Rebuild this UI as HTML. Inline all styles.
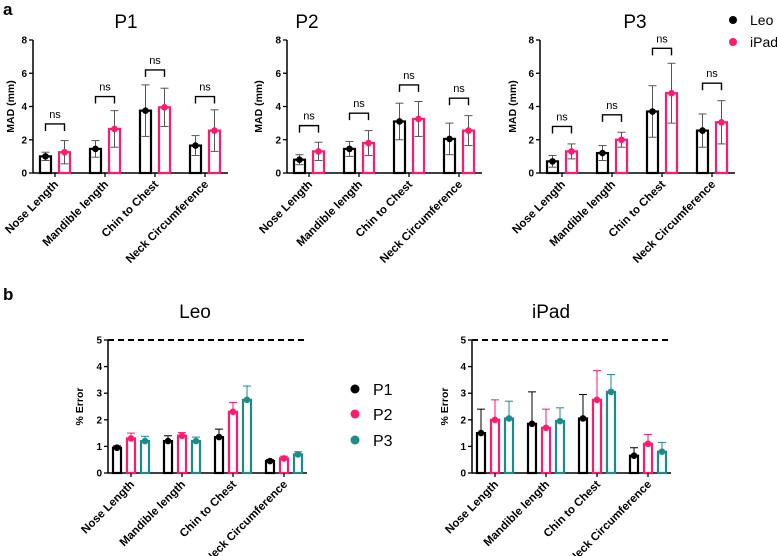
<!DOCTYPE html>
<html><head><meta charset="utf-8"><style>
body{margin:0;background:#fff;width:777px;height:556px;overflow:hidden}
svg{display:block;font-family:"Liberation Sans",Arial,sans-serif}
</style></head><body>
<svg id="c" width="777" height="556"></svg>
<script>
const categories=["Nose Length","Mandible length","Chin to Chest","Neck Circumference"];
const p1Leo=[1.0,1.45,3.75,1.65], p1LeoErr=[0.25,0.5,1.55,0.6];
const p1Ipad=[1.25,2.65,3.95,2.55], p1IpadErr=[0.7,1.1,1.15,1.25];
const p1Brk=[2.95,4.6,6.2,4.6];
const p2Leo=[0.8,1.45,3.1,2.05], p2LeoErr=[0.3,0.45,1.1,0.95];
const p2Ipad=[1.3,1.8,3.25,2.55], p2IpadErr=[0.55,0.75,1.05,0.9];
const p2Brk=[2.85,3.6,5.3,4.5];
const p3Leo=[0.7,1.2,3.7,2.55], p3LeoErr=[0.35,0.45,1.55,1.0];
const p3Ipad=[1.3,2.0,4.8,3.05], p3IpadErr=[0.45,0.45,1.8,1.3];
const p3Brk=[2.8,3.5,7.5,5.4];
const madTicks=[0,2,4,6,8];
const errTicks=[0,1,2,3,4,5];
const leoP1=[0.95,1.2,1.35,0.45], leoP1Err=[0.07,0.2,0.3,0.05];
const leoP2=[1.3,1.4,2.3,0.55], leoP2Err=[0.2,0.12,0.35,0.08];
const leoP3=[1.2,1.2,2.75,0.7], leoP3Err=[0.18,0.15,0.52,0.1];
const ipadP1=[1.5,1.85,2.05,0.65], ipadP1Err=[0.9,1.2,0.9,0.3];
const ipadP2=[2.0,1.7,2.75,1.1], ipadP2Err=[0.75,0.7,1.1,0.35];
const ipadP3=[2.05,1.95,3.05,0.8], ipadP3Err=[0.65,0.5,0.65,0.35];
const threshold=5;
const BLACK="#000", PINK="#ff1a6e", TEAL="#1a8c8c";
const svg=document.getElementById('c');
const NS="http://www.w3.org/2000/svg";
function el(tag,attrs,parent,txt){const e=document.createElementNS(NS,tag);for(const k in attrs)e.setAttribute(k,attrs[k]);if(txt!==undefined)e.textContent=txt;(parent||svg).appendChild(e);return e;}
function txt(x,y,s,size,opts,parent){const t=el('text',Object.assign({x:x,y:y,'font-size':size},opts||{}),parent,s);return t;}

let t=txt(3,15,"a",17,{'font-weight':'bold'});


t=txt(3,300,"b",17,{'font-weight':'bold'});



function axisPanel(g,ax,y0,yTop,xEnd,ticks,maxV,ylab,ylx,title,titleX,titleY){
  const ys=v=>y0-(v/maxV)*(y0-yTop);
  let a=el('line',{x1:ax,y1:y0,x2:ax,y2:yTop,stroke:'#000','stroke-width':1.5},g);
  
  a=el('line',{x1:ax,y1:y0,x2:xEnd,y2:y0,stroke:'#000','stroke-width':1.5},g);
  
  ticks.forEach(v=>{
    el('line',{x1:ax-4,y1:ys(v),x2:ax,y2:ys(v),stroke:'#000','stroke-width':1.3},g);
    const tl=txt(ax-6,ys(v)+3.5,String(v),10,{'font-weight':'bold','text-anchor':'end'},g);
    
  });
  const yl=txt(0,0,ylab,10.5,{'font-weight':'bold','text-anchor':'middle',transform:`translate(${ylx},${(y0+yTop)/2}) rotate(-90)`},g);
  
  const tt=txt(titleX,titleY,title,19,{'text-anchor':'middle'},g);
  
  return ys;
}
function catLabels(g,centers,y0){
  centers.forEach((cx,i)=>{
    el('line',{x1:cx,y1:y0,x2:cx,y2:y0+4,stroke:'#000','stroke-width':1.3},g);
    const l=txt(0,0,categories[i],11.5,{'font-weight':'bold','text-anchor':'end',transform:`translate(${cx+4},${y0+12}) rotate(-45)`},g);
    
  });
}
function bar(g,x,w,y0,ys,v,err,color,ecolor,both,name){
  const r=el('rect',{x:x,y:ys(v),width:w,height:y0-ys(v),fill:'none',stroke:color,'stroke-width':2.2},g);
  
  const cx=x+w/2;
  const lo=both?Math.max(0,v-err):v;
  el('line',{x1:cx,y1:ys(v+err),x2:cx,y2:ys(lo),stroke:ecolor,'stroke-width':1},g);
  el('line',{x1:cx-4,y1:ys(v+err),x2:cx+4,y2:ys(v+err),stroke:ecolor,'stroke-width':1},g);
  if(both)el('line',{x1:cx-4,y1:ys(lo),x2:cx+4,y2:ys(lo),stroke:ecolor,'stroke-width':1},g);
  const d=el('circle',{cx:cx,cy:ys(v),r:3.3,fill:color},g);
  
}
function topPanel(id,ax,title,titleX,ylx,leo,leoErr,ipad,ipadErr,brk){
  const g=el('g',{});
  
  const y0=173,yTop=40;
  const ys=axisPanel(g,ax,y0,yTop,ax+195,madTicks,8,"MAD (mm)",ylx,title,titleX,28);
  const centers=[];
  categories.forEach((c,i)=>{
    const bx=ax+7+i*50;
    centers.push(bx+15);
    bar(g,bx,11,y0,ys,leo[i],leoErr[i],BLACK,'#555',true,'bar-leo');
    bar(g,bx+19,11,y0,ys,ipad[i],ipadErr[i],PINK,'#555',true,'bar-ipad');
    const by=ys(brk[i]);
    const b=el('path',{d:`M${bx+5.5},${by+7} V${by} H${bx+24.5} V${by+7}`,fill:'none',stroke:'#000','stroke-width':1.4},g);
    
    const n=txt(bx+15,by-6,"ns",11,{'text-anchor':'middle'},g);
    
  });
  catLabels(g,centers,y0);
}
topPanel('chart-p1',33,"P1",126,14,p1Leo,p1LeoErr,p1Ipad,p1IpadErr,p1Brk);
topPanel('chart-p2',287,"P2",307,262,p2Leo,p2LeoErr,p2Ipad,p2IpadErr,p2Brk);
topPanel('chart-p3',540,"P3",635,516,p3Leo,p3LeoErr,p3Ipad,p3IpadErr,p3Brk);

[["Leo",BLACK,20],["iPad",PINK,42]].forEach(([s,c,y])=>{
  const d=el('circle',{cx:733,cy:y,r:4,fill:c});
  
  const l=txt(750,y+5,s,14,{});
  
});

function bottomPanel(id,ax,title,titleX,ylx,a,ae,b,be,c,ce){
  const g=el('g',{});
  
  const y0=473,yTop=340;
  const ys=axisPanel(g,ax,y0,yTop,ax+199,errTicks,5,"% Error",ylx,title,titleX,318);
  const dl=el('line',{x1:ax,y1:ys(threshold),x2:ax+199,y2:ys(threshold),stroke:'#000','stroke-width':2,'stroke-dasharray':'6,4'},g);
  
  const centers=[];
  categories.forEach((cat,i)=>{
    const bx=ax+5+i*51;
    centers.push(bx+18);
    bar(g,bx,8,y0,ys,a[i],ae[i],BLACK,BLACK,false,'bar-p1');
    bar(g,bx+14,8,y0,ys,b[i],be[i],PINK,PINK,false,'bar-p2');
    bar(g,bx+28,8,y0,ys,c[i],ce[i],TEAL,TEAL,false,'bar-p3');
  });
  catLabels(g,centers,y0);
}
bottomPanel('chart-leo',108,"Leo",195,83,leoP1,leoP1Err,leoP2,leoP2Err,leoP3,leoP3Err);
bottomPanel('chart-ipad',472,"iPad",551,448,ipadP1,ipadP1Err,ipadP2,ipadP2Err,ipadP3,ipadP3Err);

[["P1",BLACK,389],["P2",PINK,414],["P3",TEAL,440]].forEach(([s,c,y])=>{
  const d=el('circle',{cx:355,cy:y,r:4.5,fill:c});
  
  const l=txt(373,y+6,s,16,{});
  
});
</script>
</body></html>
